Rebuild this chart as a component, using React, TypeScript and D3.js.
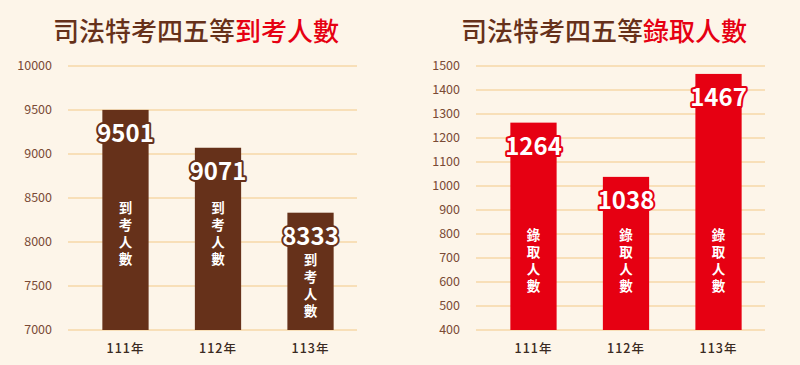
import React from "react";
import * as d3 from "d3";

const categories = ["111年", "112年", "113年"];
const examinees = [9501, 9071, 8333];
const admitted = [1264, 1038, 1467];
const leftTicks = [7000, 7500, 8000, 8500, 9000, 9500, 10000];
const rightTicks = [400, 500, 600, 700, 800, 900, 1000, 1100, 1200, 1300, 1400, 1500];

const BG = "#FDF5E9";
const BROWN = "#66311A";
const RED = "#E60012";
const GRID = "#F6D7A7";
const TICK = "#7A4A35";
const FONT = "'Noto Sans CJK TC', 'Noto Sans', sans-serif";

type PanelProps = {
  x0: number;
  values: number[];
  ticks: number[];
  domain: [number, number];
  color: string;
  titleRed: string;
  inner: string;
  innerTop: number[];
};

function Panel({ x0, values, ticks, domain, color, titleRed, inner, innerTop }: PanelProps) {
  const gx0 = x0 + 68;
  const gx1 = x0 + 357;
  const y = d3.scaleLinear().domain(domain).range([330, 66]);
  const x = d3.scaleBand().domain(categories).range([gx0 + 14, gx1 - 3]).paddingInner(0.5).paddingOuter(0.22);
  return (
    <g>
      <text x={x0 + 196} y={41} textAnchor="middle" fontFamily={FONT} fontSize={26} fontWeight={500} fill={BROWN}>
        司法特考四五等<tspan fill={RED}>{titleRed}</tspan>
      </text>
      {ticks.map((t) => (
        <g key={t}>
          <line x1={gx0} x2={gx1} y1={y(t)} y2={y(t)} stroke={GRID} strokeWidth={1.5} />
          <text x={gx0 - 16} y={y(t)} dy="0.35em" textAnchor="end" fontFamily={FONT} fontSize={12.5} fill={TICK}>
            {t}
          </text>
        </g>
      ))}
      {values.map((v, i) => {
        const c = categories[i];
        const bx = x(c)!;
        const bw = x.bandwidth();
        const cx = bx + bw / 2;
        return (
          <g key={c}>
            <rect x={bx} y={y(v)} width={bw} height={y(domain[0]) - y(v)} fill={color} />
            <text x={cx} y={y(v) + 24} dy="0.35em" textAnchor="middle" fontFamily={FONT} fontSize={24} fontWeight={700}
              fill="#fff" stroke={color} strokeWidth={4} paintOrder="stroke" strokeLinejoin="round">
              {v}
            </text>
            <text x={cx} y={innerTop[i] - 7} fontFamily={FONT} fontSize={13.5} fontWeight={700} fill="#fff"
              letterSpacing={3.5} style={{ writingMode: "vertical-rl", textOrientation: "upright" } as any}>
              {inner}
            </text>
            <text x={cx} y={349} dy="0.35em" textAnchor="middle" fontFamily={FONT} fontSize={12.5} fontWeight={500} fill="#3a2a22" letterSpacing={1}>
              {c}
            </text>
          </g>
        );
      })}
    </g>
  );
}

export default function App() {
  return (
    <svg width={800} height={365} style={{ position: "absolute", left: 0, top: 0 }}>
      <rect width={800} height={365} fill={BG} />
      <Panel x0={0} values={examinees} ticks={leftTicks} domain={[7000, 10000]} color={BROWN} titleRed="到考人數" inner="到考人數" innerTop={[208, 208, 260]} />
      <Panel x0={408} values={admitted} ticks={rightTicks} domain={[400, 1500]} color={RED} titleRed="錄取人數" inner="錄取人數" innerTop={[235, 235, 235]} />
    </svg>
  );
}
